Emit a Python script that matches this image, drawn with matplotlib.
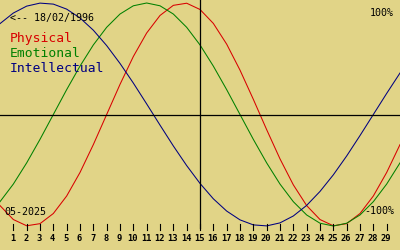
import matplotlib
matplotlib.use("Agg")
import matplotlib.pyplot as plt

# Day of the month (0..30); day 15 is the marked "today"
days = list(range(0, 31))
physical = [-0.817, -0.942, -0.998, -0.979, -0.888, -0.731, -0.520, -0.270, 0.0,
            0.270, 0.520, 0.731, 0.888, 0.979, 0.998, 0.942, 0.817, 0.631, 0.398,
            0.136, -0.136, -0.398, -0.631, -0.817, -0.942, -0.998, -0.979, -0.888,
            -0.731, -0.520, -0.270]
emotional = [-0.782, -0.624, -0.434, -0.223, 0.0, 0.223, 0.434, 0.624, 0.782,
             0.901, 0.975, 1.0, 0.975, 0.901, 0.782, 0.624, 0.434, 0.223, 0.0,
             -0.223, -0.434, -0.624, -0.782, -0.901, -0.975, -1.0, -0.975, -0.901,
             -0.782, -0.624, -0.434]
intellectual = [0.815, 0.910, 0.972, 0.999, 0.990, 0.945, 0.866, 0.756, 0.618,
                0.458, 0.282, 0.095, -0.095, -0.282, -0.458, -0.618, -0.756, -0.866,
                -0.945, -0.990, -0.999, -0.972, -0.910, -0.815, -0.690, -0.541,
                -0.372, -0.189, 0.0, 0.189, 0.372]
tick_days = list(range(1, 30))
birth_label = "<-- 18/02/1996"
month_label = "05-2025"
today = 15

W, H = 400, 250
fig = plt.figure(figsize=(W / 100, H / 100), dpi=100)
bg = "#E1D487"
fig.patch.set_facecolor(bg)
ax = fig.add_axes([0, 0, 1, 1])
ax.set_facecolor(bg)
ax.set_axis_off()

# pixel mapping: value v -> pixel row 114.5 - 111.5*v
cy, amp = 114.5, 111.5
ax.set_xlim(0, 30)
ax.set_ylim((cy - H) / amp, cy / amp)

def py(p):
    return (cy - p) / amp

lw = 0.75
ax.plot(days, physical, color="#D80000", lw=lw)
ax.plot(days, emotional, color="#008000", lw=lw)
ax.plot(days, intellectual, color="#000080", lw=lw)

ax.axhline(0, color="black", lw=0.9)
ax.plot([today, today], [py(0), py(228)], color="black", lw=0.9)

mono = "DejaVu Sans Mono"
for d in tick_days:
    ax.plot([d, d], [py(224), py(230)], color="black", lw=0.8)
    ax.text(d - 0.05, py(238.5), str(d), ha="center", va="center",
            fontsize=6.3, family=mono, fontweight="bold")

ax.text(10 / 13.333, py(17.5), birth_label, ha="left", va="center",
        fontsize=7.2, family=mono, color="black")
ax.text(10 / 13.333, py(38), "Physical", ha="left", va="center",
        fontsize=9.4, family=mono, color="#D80000")
ax.text(10 / 13.333, py(53), "Emotional", ha="left", va="center",
        fontsize=9.4, family=mono, color="#008000")
ax.text(10 / 13.333, py(68), "Intellectual", ha="left", va="center",
        fontsize=9.4, family=mono, color="#000080")
ax.text(394 / 13.333, py(12.5), "100%", ha="right", va="center",
        fontsize=7.2, family=mono, color="black")
ax.text(394 / 13.333, py(211.5), "-100%", ha="right", va="center",
        fontsize=7.2, family=mono, color="black")
ax.text(4 / 13.333, py(212), month_label, ha="left", va="center",
        fontsize=7.2, family=mono, color="black")

fig.savefig("out.png", dpi=100, facecolor=bg)
